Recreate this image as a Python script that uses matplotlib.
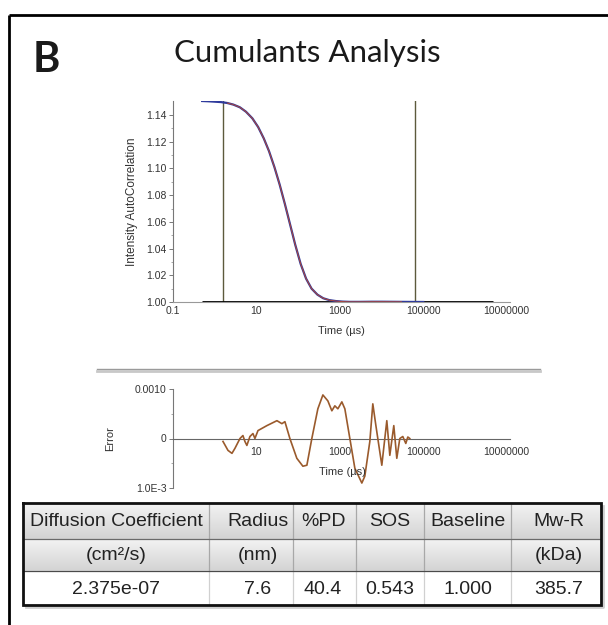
import numpy as np
import matplotlib
matplotlib.use("Agg")
import matplotlib.pyplot as plt
from matplotlib.ticker import FixedLocator, FixedFormatter, NullLocator

W, H = 608, 625

# Intensity autocorrelation (time in microseconds)
corr_time = [0.5, 0.7, 1.0, 1.4, 2.0, 2.8, 4.0, 5.6, 8.0, 11, 15, 20, 27, 36, 48, 63, 85,
             115, 155, 210, 290, 400, 560, 800, 1150, 1700, 3000, 6000, 1e4, 3e4, 1e5]
corr_value = [1.1505, 1.1503, 1.1500, 1.1497, 1.1490, 1.1478, 1.1458, 1.1425, 1.1375, 1.1310,
              1.1225, 1.1130, 1.1010, 1.0880, 1.0735, 1.0590, 1.0430, 1.0285, 1.0175, 1.0100,
              1.0055, 1.0028, 1.0014, 1.0007, 1.0003, 1.0001, 1.0001, 1.0002, 1.0002, 1.0001,
              1.0]
baseline_span = [0.5, 4.6e6]
fit_range = [1.58, 6.3e4]

# Fit residuals
res_time = [1.58, 2.08, 2.59, 3.05, 4.03, 4.75, 5.3, 5.9, 6.98, 8.25, 9.2, 10.9, 17.8, 31,
            40.8, 48.2, 63.4, 93, 130, 162, 213, 297, 392, 516, 643, 759, 896, 1117, 1318,
            1737, 2287, 3365, 3972, 5234, 6170, 7200, 8130, 10140, 13360, 15780, 19650,
            23190, 27370, 32300, 38100, 42600, 47500]
res_value = [-0.00006, -0.00024, -0.0003, -0.0002, 0.0, 0.00006, -0.00006, -0.00014, 0.00004,
             0.0001, 0.0, 0.00016, 0.00026, 0.00036, 0.0003, 0.00034, 0.0, -0.0004, -0.00056,
             -0.00054, 0.0, 0.0006, 0.00088, 0.00076, 0.00056, 0.00066, 0.0006, 0.00074,
             0.0006, 0.0, -0.0006, -0.0009, -0.00076, -0.00006, 0.0007, 0.0003, 0.0,
             -0.00054, 0.00036, -0.00034, 0.00026, -0.0004, 0.0, 0.00004, -0.0001, 0.00003, 0.0]

# Results table
headers = ["Diffusion Coefficient", "Radius", "%PD", "SOS", "Baseline", "Mw-R"]
units = ["(cm²/s)", "(nm)", "", "", "", "(kDa)"]
values = ["2.375e-07", "7.6", "40.4", "0.543", "1.000", "385.7"]

x_ticks = [0.1, 10, 1000, 100000, 10000000]
x_ticklabels = ["0.1", "10", "1000", "100000", "10000000"]
corr_ticks = [1.00, 1.02, 1.04, 1.06, 1.08, 1.10, 1.12, 1.14]
err_ticks = [-0.001, 0.0, 0.001]
err_ticklabels = ["1.0E-3", "0", "0.0010"]

plt.rcParams['font.family'] = ['Liberation Sans', 'DejaVu Sans']
TXT = '#333333'


def rect(x0, y0, x1, y1):
    return [x0 / W, 1 - y1 / H, (x1 - x0) / W, (y1 - y0) / H]


fig = plt.figure(figsize=(W / 100, H / 100), dpi=100)
fig.patch.set_facecolor('white')

# Background overlay in pixel coordinates
ov = fig.add_axes([0, 0, 1, 1], zorder=0)
ov.set_xlim(0, W)
ov.set_ylim(H, 0)
ov.axis('off')

# Frame
ov.plot([9, W], [15, 15], color='black', lw=2.0, solid_capstyle='butt')
ov.plot([9, 9], [15, H], color='black', lw=2.0, solid_capstyle='butt')

ov.text(46, 72, "B", fontsize=30, fontweight='bold', family=['Lato', 'DejaVu Sans'],
        ha='center', va='baseline', color='#1a1a1a')
ov.text(307, 62, "Cumulants Analysis", fontsize=22.5, family=['Lato', 'DejaVu Sans'],
        ha='center', va='baseline', color='#1a1a1a')

# Separator between panels
ov.plot([97, 540], [368.5, 368.5], color='#9a9a9a', lw=1.0)
ov.plot([97, 540], [371, 371], color='#c8c8c8', lw=2.0)

# ---- correlation panel ----
ax1 = fig.add_axes(rect(173, 101, 510, 302), zorder=2)
ax1.set_facecolor('none')
ax1.set_xscale('log')
ax1.set_xlim(0.1, 1.2e7)
ax1.set_ylim(1.0, 1.1505)
for s in ['top', 'right']:
    ax1.spines[s].set_visible(False)
ax1.spines['left'].set_color('#777777')
ax1.spines['bottom'].set_color('#999999')
ax1.spines['left'].set_linewidth(0.8)
ax1.spines['bottom'].set_linewidth(0.8)

ax1.plot(baseline_span, [1.0, 1.0], color='black', lw=2.0, zorder=3, solid_capstyle='butt')
ax1.plot(corr_time, corr_value, color='#2e3a9c', lw=1.6, zorder=4)
fit_t = [t for t in corr_time if fit_range[0] <= t <= fit_range[1]]
fit_v = [v for t, v in zip(corr_time, corr_value) if fit_range[0] <= t <= fit_range[1]]
ax1.plot(fit_t, fit_v, color='#b0473a', lw=0.7, zorder=5)
for xv in fit_range:
    ax1.plot([xv, xv], [1.0, 1.1505], color='#5c5a3c', lw=1.0, zorder=2)

ax1.xaxis.set_major_locator(FixedLocator(x_ticks))
ax1.xaxis.set_major_formatter(FixedFormatter(x_ticklabels))
ax1.xaxis.set_minor_locator(NullLocator())
ax1.tick_params(axis='x', length=0, pad=3, labelsize=7.5, labelcolor=TXT)
ax1.yaxis.set_major_locator(FixedLocator(corr_ticks))
ax1.yaxis.set_major_formatter(FixedFormatter([f"{v:.2f}" for v in corr_ticks]))
ax1.yaxis.set_minor_locator(FixedLocator(np.arange(1.01, 1.15, 0.02)))
ax1.tick_params(axis='y', which='major', direction='out', length=3, width=0.7,
                color='#777777', pad=1.5, labelsize=7.5, labelcolor=TXT)
ax1.tick_params(axis='y', which='minor', direction='out', length=1.5, width=0.6, color='#999999')
ax1.set_ylabel("Intensity AutoCorrelation", fontsize=8.5, color=TXT, labelpad=6)
ax1.set_xlabel("Time (µs)", fontsize=8, color=TXT, labelpad=7)

# ---- residual panel ----
ax2 = fig.add_axes(rect(173, 389, 510, 488), zorder=2)
ax2.set_facecolor('none')
ax2.set_xscale('log')
ax2.set_xlim(0.1, 1.2e7)
ax2.set_ylim(-0.001, 0.001)
for s in ['top', 'right']:
    ax2.spines[s].set_visible(False)
ax2.spines['bottom'].set_position(('data', 0.0))
ax2.spines['bottom'].set_color('#666666')
ax2.spines['bottom'].set_linewidth(0.8)
ax2.spines['left'].set_color('#777777')
ax2.spines['left'].set_linewidth(0.8)

ax2.plot(res_time, res_value, color='#9a5a2c', lw=1.2, zorder=4)

ax2.xaxis.set_major_locator(FixedLocator(x_ticks))
ax2.xaxis.set_major_formatter(FixedFormatter(["", "10", "1000", "100000", "10000000"]))
ax2.xaxis.set_minor_locator(NullLocator())
ax2.tick_params(axis='x', length=0, pad=6, labelsize=7.5, labelcolor=TXT)
ax2.yaxis.set_major_locator(FixedLocator(err_ticks))
ax2.yaxis.set_major_formatter(FixedFormatter(err_ticklabels))
ax2.yaxis.set_minor_locator(FixedLocator([-0.0005, 0.0005]))
ax2.tick_params(axis='y', which='major', direction='out', length=3, width=0.7,
                color='#777777', pad=1.5, labelsize=7.5, labelcolor=TXT)
ax2.tick_params(axis='y', which='minor', direction='out', length=1.5, width=0.6, color='#999999')
ax2.set_ylabel("Error", fontsize=8, color=TXT, labelpad=14)
ax2.text(0.504, 0.16, "Time (µs)", transform=ax2.transAxes, fontsize=8, color=TXT,
         ha='center', va='center', zorder=5)

# ---- results table ----
tab = fig.add_axes([0, 0, 1, 1], zorder=3)
tab.set_xlim(0, W)
tab.set_ylim(H, 0)
tab.axis('off')

col_edges = [23, 209, 293, 356, 424, 511, 601]
col_centers = [116, 258, 323, 390, 468, 559]
row_edges = [503, 539, 571, 605]

grad = np.linspace(0, 1, 64).reshape(-1, 1)
hdr_cmap = matplotlib.colors.LinearSegmentedColormap.from_list('hdr', ['#f3f3f3', '#d3d3d3'])
for r in range(2):
    tab.imshow(grad, cmap=hdr_cmap, aspect='auto',
               extent=[col_edges[0], col_edges[-1], row_edges[r + 1], row_edges[r]], zorder=1)
tab.fill_between([col_edges[0], col_edges[-1]], row_edges[2], row_edges[3],
                 color='white', zorder=1)

# cell separators
for x in col_edges[1:-1]:
    tab.plot([x, x], [row_edges[0], row_edges[2]], color='#a8a8a8', lw=0.9, zorder=2)
    tab.plot([x, x], [row_edges[2], row_edges[3]], color='#d0d0d0', lw=0.9, zorder=2)
tab.plot([col_edges[0], col_edges[-1]], [row_edges[1], row_edges[1]], color='#6a6a6a', lw=0.9, zorder=2)
tab.plot([col_edges[0], col_edges[-1]], [row_edges[2], row_edges[2]], color='#4a4a4a', lw=0.9, zorder=2)

# shadow and outer border
tab.plot([col_edges[0] + 3, col_edges[-1] + 2, col_edges[-1] + 2],
         [row_edges[3] + 2, row_edges[3] + 2, row_edges[0] + 3], color='#cfcfcf', lw=2.0, zorder=2)
tab.plot([col_edges[0], col_edges[-1], col_edges[-1], col_edges[0], col_edges[0]],
         [row_edges[0], row_edges[0], row_edges[3], row_edges[3], row_edges[0]],
         color='#111111', lw=2.0, zorder=3, solid_joinstyle='miter')

for row, texts in enumerate([headers, units, values]):
    yc = (row_edges[row] + row_edges[row + 1]) / 2 + 1
    for xc, t in zip(col_centers, texts):
        tab.text(xc, yc, t, fontsize=14, color='#222222', ha='center', va='center', zorder=4)

fig.savefig("out.png", dpi=100, facecolor='white')
